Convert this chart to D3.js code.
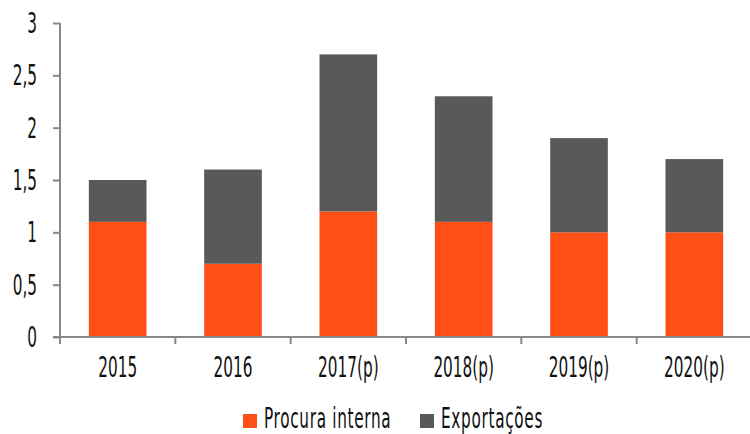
<!DOCTYPE html>
<html>
<head>
<meta charset="utf-8">
<script src="https://cdn.jsdelivr.net/npm/d3@7"></script>
<style>
  body { margin: 0; background: #fff; }
  text { font-family: "DejaVu Sans Condensed", "DejaVu Sans", sans-serif; fill: #111; }
</style>
</head>
<body>
<div id="chart"></div>
<script>
const years = ["2015", "2016", "2017(p)", "2018(p)", "2019(p)", "2020(p)"];
const procuraInterna = [1.1, 0.7, 1.2, 1.1, 1.0, 1.0];
const exportacoes = [0.4, 0.9, 1.5, 1.2, 0.9, 0.7];
const seriesNames = ["Procura interna", "Exportações"];
const seriesColors = ["#FF4F17", "#595959"];
const yTicks = [0, 0.5, 1, 1.5, 2, 2.5, 3];

const width = 750, height = 434;
const margin = { top: 23, right: -2, bottom: 97, left: 60 };
const fontSize = "25px";
const squeezeX = 0.68, stretchY = 1.1;

// the reference uses a tall narrow face, so squeeze the text horizontally
const narrow = (sel) => sel.each(function () {
    const t = d3.select(this);
    const tx = +t.attr("x") || 0;
    const ty = +t.attr("y") || 0;
    t.attr("x", 0).attr("y", 0)
        .attr("transform", `translate(${tx},${ty}) scale(${squeezeX},${stretchY})`);
});

const svg = d3.select("#chart").append("svg")
    .attr("width", width)
    .attr("height", height);

const x = d3.scaleBand()
    .domain(years)
    .range([margin.left, width - margin.right])
    .paddingInner(0.5)
    .paddingOuter(0.25);

const y = d3.scaleLinear()
    .domain([0, 3])
    .range([height - margin.bottom, margin.top]);

const rows = years.map((yr, i) => ({ year: yr, procura: procuraInterna[i], export: exportacoes[i] }));
const stacked = d3.stack().keys(["procura", "export"])(rows);

svg.append("g")
    .selectAll("g")
    .data(stacked)
    .enter()
    .append("g")
    .attr("fill", (d, i) => seriesColors[i])
    .selectAll("rect")
    .data((d) => d)
    .enter()
    .append("rect")
    .attr("x", (d) => x(d.data.year))
    .attr("y", (d) => y(d[1]))
    .attr("width", x.bandwidth())
    .attr("height", (d) => y(d[0]) - y(d[1]));

// y axis
const yAxis = svg.append("g")
    .attr("transform", `translate(${margin.left},0)`)
    .call(d3.axisLeft(y).tickValues(yTicks).tickSize(7).tickPadding(16)
        .tickFormat((d) => String(d).replace(".", ",")));
yAxis.select(".domain").attr("stroke", "#888").attr("stroke-width", 2)
    .attr("d", `M0,${y(3)}V${y(0)}`);
yAxis.selectAll(".tick line").attr("stroke", "#888").attr("stroke-width", 2);
yAxis.selectAll(".tick text")
    .style("font-size", fontSize)
    .attr("fill", "#111")
    .attr("dy", null)
    .attr("y", 9.5)
    .call(narrow);

// x axis with ticks at category boundaries
const boundaries = d3.range(years.length + 1).map((i) => margin.left + i * (width - margin.right - margin.left) / years.length);
const xAxisG = svg.append("g");
xAxisG.append("line")
    .attr("x1", margin.left - 7).attr("x2", width)
    .attr("y1", y(0)).attr("y2", y(0))
    .attr("stroke", "#888").attr("stroke-width", 2);
xAxisG.selectAll(".bt")
    .data(boundaries)
    .enter()
    .append("line")
    .attr("x1", (d) => d).attr("x2", (d) => d)
    .attr("y1", y(0)).attr("y2", y(0) + 7)
    .attr("stroke", "#888").attr("stroke-width", 2);
xAxisG.selectAll(".lbl")
    .data(years)
    .enter()
    .append("text")
    .attr("x", (d) => x(d) + x.bandwidth() / 2)
    .attr("y", y(0) + 40)
    .attr("text-anchor", "middle")
    .style("font-size", fontSize)
    .text((d) => d)
    .call(narrow);

// legend
const legend = svg.append("g").attr("transform", "translate(243, 414)");
const legendX = [0, 177];
legend.selectAll("rect")
    .data(seriesNames)
    .enter()
    .append("rect")
    .attr("x", (d, i) => legendX[i])
    .attr("y", 0)
    .attr("width", 14)
    .attr("height", 14)
    .attr("fill", (d, i) => seriesColors[i]);
legend.selectAll("text")
    .data(seriesNames)
    .enter()
    .append("text")
    .attr("x", (d, i) => legendX[i] + 21)
    .attr("y", 14)
    .style("font-size", fontSize)
    .style("letter-spacing", "1px")
    .text((d) => d)
    .call(narrow);
</script>
</body>
</html>
